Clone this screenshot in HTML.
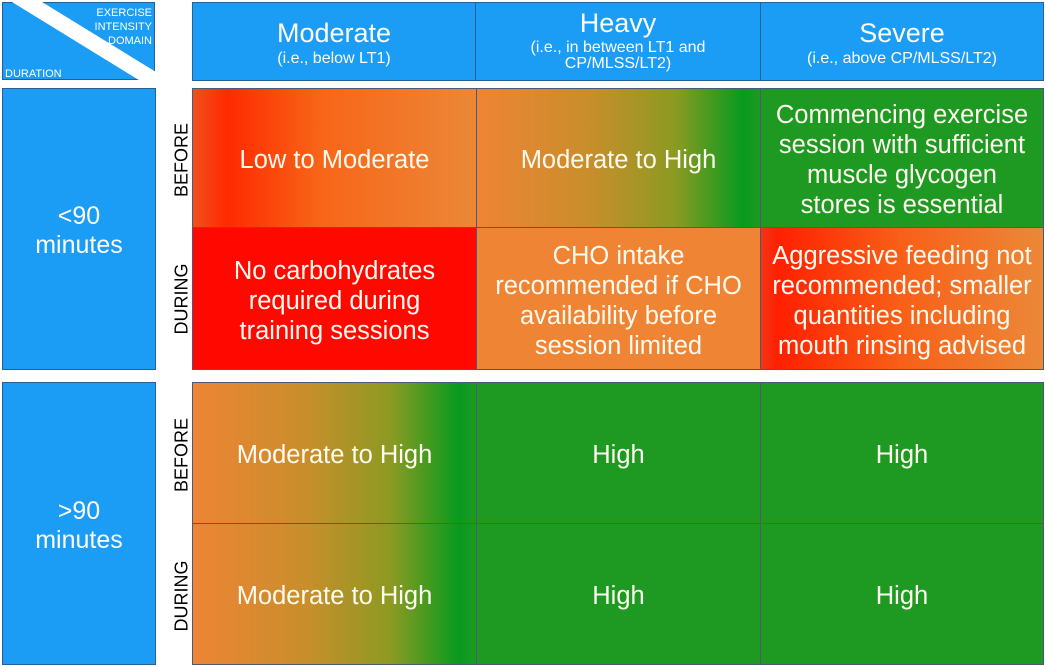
<!DOCTYPE html>
<html><head><meta charset="utf-8">
<style>
html,body{margin:0;padding:0;background:#fff;}
body{width:1045px;height:666px;position:relative;overflow:hidden;font-family:"Liberation Sans",Arial,sans-serif;}
.a{position:absolute;box-sizing:border-box;}
.blue{background:#1b9cf5;border:1px solid #2a5f94;}
.cell{display:flex;align-items:center;justify-content:center;text-align:center;color:#fffaf0;font-size:25.5px;line-height:30px;border:1px solid #4b5a78;padding-top:4px;}
.hdr{color:#fff;text-align:center;}
.t{font-size:27px;line-height:30px;}
.s{font-size:16px;line-height:16px;margin-top:2px;}
.vl{position:absolute;font-size:18px;color:#000;transform:translate(-50%,-50%) rotate(-90deg);white-space:nowrap;}
.lab{color:#fff;font-size:25px;line-height:29px;text-align:center;display:flex;align-items:center;justify-content:center;padding-top:4px;}
.red{background:#ff0800;}
.org{background:#ef8434;}
.grn{background:#1e9a22;}
.g1{background:linear-gradient(to right,#f0501e 0%,#ff2a00 12%,#f86518 45%,#eb8838 100%);}
.g2{background:linear-gradient(to right,#ef8434 0%,#c88e2c 40%,#8c9a22 70%,#089a1f 94%,#1c9a22 100%);}
.g3{background:linear-gradient(to right,#f3351a 0%,#ff2000 6%,#f86018 50%,#ec8838 100%);}
</style></head>
<body>
<!-- corner -->
<svg class="a" style="left:0;top:0" width="160" height="84">
<rect x="2.5" y="2.5" width="152" height="77" fill="#1b9cf5" stroke="#2a5f94" stroke-width="1"/>
<polygon points="12,2 42,2 156,72 156,82 142,82" fill="#fff"/>
<text x="152" y="16" fill="#fff" font-size="11" text-anchor="end" font-family="Liberation Sans, Arial, sans-serif">EXERCISE</text>
<text x="152" y="30" fill="#fff" font-size="11" text-anchor="end" font-family="Liberation Sans, Arial, sans-serif">INTENSITY</text>
<text x="152" y="44" fill="#fff" font-size="11" text-anchor="end" font-family="Liberation Sans, Arial, sans-serif">DOMAIN</text>
<text x="5" y="77" fill="#fff" font-size="11" font-family="Liberation Sans, Arial, sans-serif">DURATION</text>
</svg>

<!-- header -->
<div class="a blue" style="left:192px;top:2px;width:852px;height:79px;"></div>
<div class="a" style="left:475px;top:2px;width:1px;height:79px;background:#2a5f94"></div>
<div class="a" style="left:760px;top:2px;width:1px;height:79px;background:#2a5f94"></div>
<div class="a hdr" style="left:192px;top:18px;width:284px;"><div class="t">Moderate</div><div class="s" style="margin-top:3px">(i.e., below LT1)</div></div>
<div class="a hdr" style="left:476px;top:8px;width:284px;"><div class="t">Heavy</div><div class="s" style="margin-top:2px">(i.e., in between LT1 and<br>CP/MLSS/LT2)</div></div>
<div class="a hdr" style="left:760px;top:18px;width:284px;"><div class="t">Severe</div><div class="s" style="margin-top:3px">(i.e., above CP/MLSS/LT2)</div></div>

<!-- left column -->
<div class="a blue lab" style="left:2px;top:88px;width:154px;height:282px;">&lt;90<br>minutes</div>
<div class="a blue lab" style="left:2px;top:382px;width:154px;height:283px;">&gt;90<br>minutes</div>

<!-- vertical labels -->
<div class="vl" style="left:182px;top:160px;">BEFORE</div>
<div class="vl" style="left:182px;top:299px;">DURING</div>
<div class="vl" style="left:182px;top:455px;">BEFORE</div>
<div class="vl" style="left:182px;top:596px;">DURING</div>

<!-- top block -->
<div class="a cell g1" style="left:192px;top:88px;width:285px;height:140px;">Low to Moderate</div>
<div class="a cell g2" style="left:476px;top:88px;width:285px;height:140px;">Moderate to High</div>
<div class="a cell grn" style="left:760px;top:88px;width:284px;height:140px;">Commencing exercise<br>session with sufficient<br>muscle glycogen<br>stores is essential</div>
<div class="a cell red" style="left:192px;top:227px;width:285px;height:143px;">No carbohydrates<br>required during<br>training sessions</div>
<div class="a cell org" style="left:476px;top:227px;width:285px;height:143px;">CHO intake<br>recommended if CHO<br>availability before<br>session limited</div>
<div class="a cell g3" style="left:760px;top:227px;width:284px;height:143px;">Aggressive feeding not<br>recommended; smaller<br>quantities including<br>mouth rinsing advised</div>

<!-- bottom block -->
<div class="a cell g2" style="left:192px;top:382px;width:285px;height:142px;">Moderate to High</div>
<div class="a cell grn" style="left:476px;top:382px;width:285px;height:142px;">High</div>
<div class="a cell grn" style="left:760px;top:382px;width:284px;height:142px;">High</div>
<div class="a cell g2" style="left:192px;top:523px;width:285px;height:142px;">Moderate to High</div>
<div class="a cell grn" style="left:476px;top:523px;width:285px;height:142px;">High</div>
<div class="a cell grn" style="left:760px;top:523px;width:284px;height:142px;">High</div>
</body></html>
